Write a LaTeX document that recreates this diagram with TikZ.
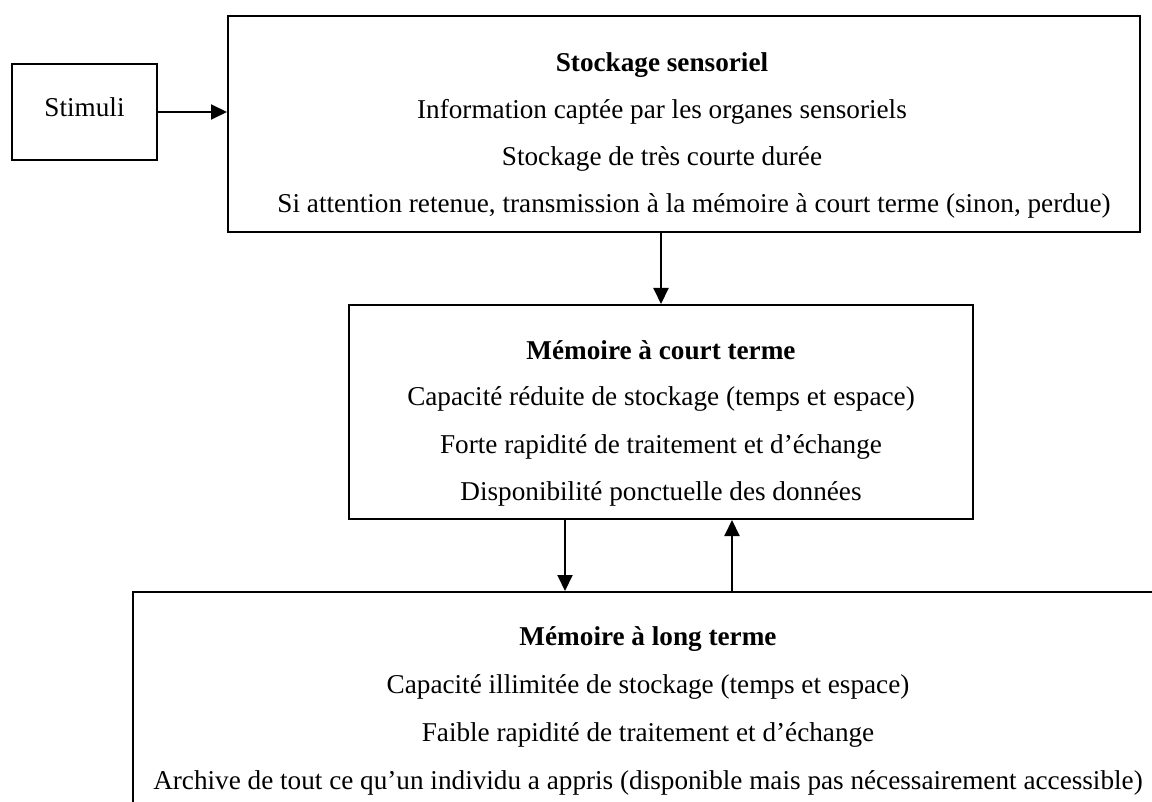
\documentclass[tikz,border=0pt]{standalone}
\usepackage{fontspec}
\setmainfont{Liberation Serif}
\usetikzlibrary{arrows.meta,calc}
\begin{document}
\begin{tikzpicture}[x=0.5pt,y=-0.5pt,
  box/.style={draw=black,line width=1pt,rectangle,inner sep=0pt,fill=none},
  txt/.style={anchor=base,inner sep=0pt,font=\fontsize{13.6pt}{16pt}\selectfont},
  ttl/.style={txt,font=\fontsize{13.6pt}{16pt}\selectfont\bfseries},
  arr/.style={line width=1pt,-{Triangle[length=8pt,width=7.5pt]}}]
\useasboundingbox (0,0) rectangle (1152,802);
\fill[white] (0,0) rectangle (1152,802);
\clip (0,0) rectangle (1152,802);
% boxes
\node[box,minimum width=72.5pt,minimum height=48pt] (stim) at (84.5,112) {};
\node[box,minimum width=456pt,minimum height=108pt] (sens) at (684,124) {};
\node[box,minimum width=312pt,minimum height=107pt] (mid) at (661,412) {};
\node[box,minimum width=516pt,minimum height=111.5pt] (long) at (649,703.5) {};
% texts
\node[txt] (tstim) at (84.5,117) {Stimuli};
\node[ttl] (t1) at (662,72) {Stockage sensoriel};
\node[txt] (t2) at (662,119) {Information captée par les organes sensoriels};
\node[txt] (t3) at (662,166) {Stockage de très courte durée};
\node[txt] (t4) at (694,213) {Si attention retenue, transmission à la mémoire à court terme (sinon, perdue)};
\node[ttl] (m1) at (661,359) {Mémoire à court terme};
\node[txt] (m2) at (661,406) {Capacité réduite de stockage (temps et espace)};
\node[txt] (m3) at (661,453) {Forte rapidité de traitement et d’échange};
\node[txt] (m4) at (661,500) {Disponibilité ponctuelle des données};
\node[ttl] (l1) at (648,645) {Mémoire à long terme};
\node[txt] (l2) at (648,693) {Capacité illimitée de stockage (temps et espace)};
\node[txt] (l3) at (648,741) {Faible rapidité de traitement et d’échange};
\node[txt] (l4) at (648,789) {Archive de tout ce qu’un individu a appris (disponible mais pas nécessairement accessible)};
% connectors
\draw[arr] (stim.east) -- (stim.east -| sens.west);
\draw[arr] (mid.north |- sens.south) -- (mid.north);
\coordinate (dA) at ($(mid.south)+(-96,0)$);
\coordinate (uA) at ($(mid.south)+(71,0)$);
\draw[arr] (dA) -- (dA |- long.north);
\draw[arr] (uA |- long.north) -- (uA);
\end{tikzpicture}
\end{document}
